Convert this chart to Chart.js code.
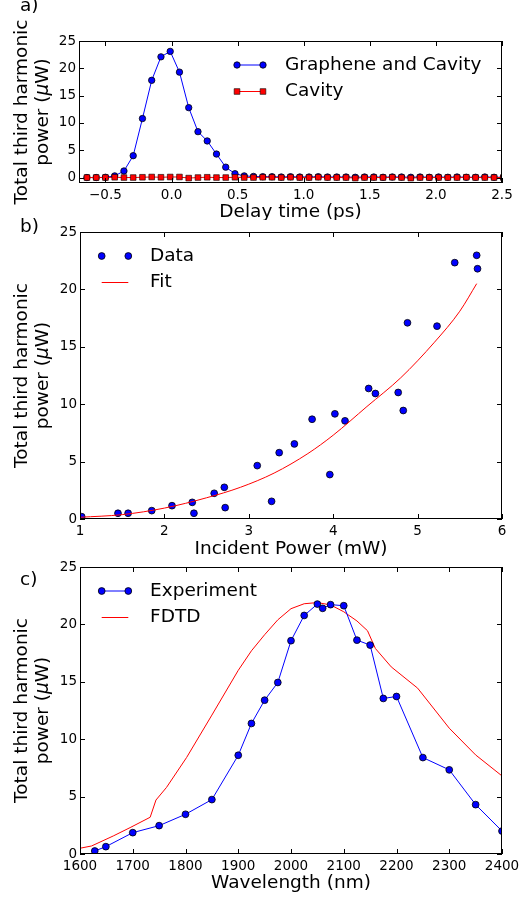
<!DOCTYPE html>
<html>
<head>
<meta charset="utf-8">
<script src="https://cdn.jsdelivr.net/npm/chart.js@4/dist/chart.umd.min.js"></script>
<style>
    body { margin: 0; background: #ffffff; width: 520px; height: 900px; position: relative; overflow: hidden; font-family: 'DejaVu Sans', sans-serif; }
    canvas { position: absolute; left: 0; }
    .panel-label { position: absolute; left: 20px; font-size: 18.5px; line-height: 1; color: #000; }
</style>
</head>
<body>
<canvas id="delayChart" width="520" height="220" style="top:0px"></canvas>
<canvas id="powerChart" width="520" height="340" style="top:220px"></canvas>
<canvas id="wavelengthChart" width="520" height="340" style="top:560px"></canvas>
<div class="panel-label" style="top:-4px">a)</div>
<div class="panel-label" style="top:217px">b)</div>
<div class="panel-label" style="top:570px">c)</div>
<script>
// Panel a) - delay scan
const delayTimes = [-0.64, -0.57, -0.50, -0.43, -0.36, -0.29, -0.22, -0.15, -0.08, -0.01,
    0.06, 0.13, 0.20, 0.27, 0.34, 0.41, 0.48, 0.55, 0.62, 0.69,
    0.76, 0.83, 0.90, 0.97, 1.04, 1.11, 1.18, 1.25, 1.32, 1.39,
    1.46, 1.53, 1.60, 1.67, 1.74, 1.81, 1.88, 1.95, 2.02, 2.09,
    2.16, 2.23, 2.30, 2.37, 2.44, 2.51];
const grapheneCavity = [0.0, 0.0, 0.05, 0.3, 1.2, 4.0, 10.8, 17.8, 22.1, 23.1,
    19.3, 12.8, 8.4, 6.7, 4.3, 1.9, 0.7, 0.3, 0.2, 0.15,
    0.15, 0.1, 0.15, 0.1, 0.1, 0.15, 0.1, 0.1, 0.1, 0.05,
    0.1, 0.1, 0.05, 0.1, 0.1, 0.05, 0.1, 0.05, 0.1, 0.05,
    0.1, 0.05, 0.05, 0.1, 0.05, 0.05];
const cavityOnly = [0.0, 0.0, 0.0, 0.05, 0.0, 0.0, 0.05, 0.1, 0.05, 0.1,
    0.1, -0.1, 0.0, 0.05, 0.0, 0.0, 0.05, 0.0, 0.0, 0.05,
    0.05, 0.0, 0.05, 0.0, 0.0, 0.05, 0.0, 0.0, 0.0, -0.1,
    0.0, 0.0, 0.0, 0.05, 0.0, -0.1, 0.0, 0.0, 0.0, 0.0,
    0.0, 0.05, 0.0, 0.0, 0.0, 0.0];
const delayTicks = [-0.5, 0.0, 0.5, 1.0, 1.5, 2.0, 2.5];
const delayTickLabels = ['\u22120.5', '0.0', '0.5', '1.0', '1.5', '2.0', '2.5'];

// Panel b) - power dependence
const incidentPower = [1.02, 1.45, 1.57, 1.85, 2.09, 2.33, 2.35, 2.59, 2.71, 2.72,
    3.10, 3.27, 3.36, 3.54, 3.75, 3.96, 4.02, 4.14, 4.42, 4.50,
    4.77, 4.83, 4.88, 5.23, 5.44, 5.70, 5.71];
const powerData = [0.2, 0.5, 0.5, 0.73, 1.16, 1.45, 0.5, 2.24, 2.76, 0.99,
    4.65, 1.54, 5.78, 6.54, 8.69, 3.87, 9.16, 8.55, 11.37, 10.93,
    11.02, 9.45, 17.09, 16.8, 22.33, 22.97, 21.8];
const fitPower = [1.0, 1.5, 2.0, 2.5, 2.9, 3.3, 3.7, 4.0, 4.4, 4.8, 5.2, 5.5, 5.7];
const fitValues = [0.15, 0.38, 0.95, 1.85, 2.76, 4.0, 5.7, 7.3, 9.8, 12.3, 15.4, 18.1, 20.5];
const powerTicks = [1, 2, 3, 4, 5, 6];

// Panel c) - wavelength dependence
const expWavelength = [1628, 1649, 1700, 1750, 1800, 1850, 1900, 1925, 1950, 1975,
    2000, 2025, 2050, 2060, 2075, 2100, 2125, 2150, 2175, 2200,
    2250, 2300, 2350, 2400];
const expValues = [0.26, 0.64, 1.86, 2.47, 3.46, 4.74, 8.6, 11.37, 13.4, 14.94,
    18.58, 20.78, 21.77, 21.4, 21.72, 21.63, 18.63, 18.2, 13.55, 13.72,
    8.4, 7.33, 4.3, 2.0];
const fdtdWavelength = [1600, 1622, 1663, 1695, 1733, 1744, 1764, 1802, 1850, 1900,
    1925, 1950, 1975, 2000, 2025, 2050, 2075, 2100, 2125, 2145,
    2160, 2190, 2240, 2300, 2350, 2400];
const fdtdValues = [0.5, 0.7, 1.57, 2.3, 3.2, 4.7, 5.8, 8.4, 12.1, 16.0,
    17.7, 19.1, 20.4, 21.37, 21.8, 21.9, 21.7, 21.1, 20.3, 19.45,
    17.9, 16.3, 14.45, 10.96, 8.63, 6.8];
const wavelengthTicks = [1600, 1700, 1800, 1900, 2000, 2100, 2200, 2300, 2400];

const powerAxisTicks = [0, 5, 10, 15, 20, 25];

Chart.defaults.font.family = "'DejaVu Sans', sans-serif";
Chart.defaults.color = '#000000';

function toPoints(xs, ys) {
    return xs.map((x, i) => ({ x: x, y: ys[i] }));
}

// Box frame with inward tick marks (matplotlib look)
const mplFrame = {
    id: 'mplFrame',
    afterDatasetsDraw(chart) {
        const { ctx, chartArea: a, scales } = chart;
        const len = 5;
        ctx.save();
        ctx.strokeStyle = '#000000';
        ctx.lineWidth = 1;
        ctx.beginPath();
        scales.x.ticks.forEach(t => {
            const px = Math.round(scales.x.getPixelForValue(t.value)) + 0.5;
            ctx.moveTo(px, a.bottom); ctx.lineTo(px, a.bottom - len);
            ctx.moveTo(px, a.top); ctx.lineTo(px, a.top + len);
        });
        scales.y.ticks.forEach(t => {
            const py = Math.round(scales.y.getPixelForValue(t.value)) + 0.5;
            ctx.moveTo(a.left, py); ctx.lineTo(a.left + len, py);
            ctx.moveTo(a.right, py); ctx.lineTo(a.right - len, py);
        });
        ctx.stroke();
        ctx.strokeRect(a.left + 0.5, a.top + 0.5, a.right - a.left - 1, a.bottom - a.top - 1);
        ctx.restore();
    }
};

// Two-line rotated y title, with an italic mu like mathtext
const mplYTitle = {
    id: 'mplYTitle',
    afterDraw(chart, args, opts) {
        const { ctx, chartArea: a } = chart;
        const cy = (a.top + a.bottom) / 2;
        const upright = "18.5px 'DejaVu Sans'";
        const italic = "italic 18.5px 'DejaVu Sans'";
        ctx.save();
        ctx.fillStyle = '#000000';
        ctx.textBaseline = 'middle';
        ctx.textAlign = 'left';

        // first line
        ctx.save();
        ctx.translate(opts.x1, cy);
        ctx.rotate(-Math.PI / 2);
        ctx.font = upright;
        const line1 = 'Total third harmonic';
        ctx.fillText(line1, -ctx.measureText(line1).width / 2, 0);
        ctx.restore();

        // second line in pieces
        const parts = [['power (', upright], ['\u03bc', italic], ['W)', upright]];
        let total = 0;
        parts.forEach(p => { ctx.font = p[1]; total += ctx.measureText(p[0]).width; });
        ctx.save();
        ctx.translate(opts.x2, cy);
        ctx.rotate(-Math.PI / 2);
        let pos = -total / 2;
        parts.forEach(p => {
            ctx.font = p[1];
            ctx.fillText(p[0], pos, 0);
            pos += ctx.measureText(p[0]).width;
        });
        ctx.restore();
        ctx.restore();
    }
};

// Legend with two markers joined by the line, like matplotlib
const mplLegend = {
    id: 'mplLegend',
    afterDraw(chart, args, opts) {
        if (!opts.rows) return;
        const ctx = chart.ctx;
        ctx.save();
        opts.rows.forEach(row => {
            const ds = chart.data.datasets[row.ds];
            if (ds.showLine !== false) {
                ctx.strokeStyle = ds.borderColor;
                ctx.lineWidth = ds.borderWidth;
                ctx.beginPath();
                ctx.moveTo(opts.x1, row.y);
                ctx.lineTo(opts.x2, row.y);
                ctx.stroke();
            }
            if (ds.pointRadius > 0) {
                ctx.fillStyle = ds.pointBackgroundColor;
                ctx.strokeStyle = ds.pointBorderColor;
                ctx.lineWidth = ds.pointBorderWidth;
                [opts.x1, opts.x2].forEach(x => {
                    Chart.helpers.drawPoint(ctx, {
                        pointStyle: ds.pointStyle,
                        radius: ds.pointRadius,
                        borderWidth: ds.pointBorderWidth,
                        rotation: 0
                    }, x, row.y);
                });
            }
            ctx.fillStyle = '#000000';
            ctx.font = "18.5px 'DejaVu Sans'";
            ctx.textBaseline = 'middle';
            ctx.textAlign = 'left';
            ctx.fillText(ds.label, opts.textX, row.y);
        });
        ctx.restore();
    }
};

function buildScales(cfg) {
    return {
        x: {
            type: 'linear',
            min: cfg.xMin,
            max: cfg.xMax,
            grid: { display: false, drawTicks: false },
            border: { display: false },
            afterBuildTicks: s => { s.ticks = cfg.xTicks.map(v => ({ value: v })); },
            afterFit: s => { s.height = cfg.xHeight; s.paddingLeft = 0; s.paddingRight = 0; },
            ticks: {
                autoSkip: false,
                maxRotation: 0,
                padding: 4,
                font: { size: 13.5 },
                callback: (value, index) => cfg.xLabels ? cfg.xLabels[index] : String(value)
            },
            title: {
                display: true,
                text: cfg.xTitle,
                font: { size: 18.5, lineHeight: 1.1 },
                padding: { top: 0, bottom: cfg.xTitlePad }
            }
        },
        y: {
            type: 'linear',
            min: cfg.yMin,
            max: 25,
            grid: { display: false, drawTicks: false },
            border: { display: false },
            afterBuildTicks: s => { s.ticks = powerAxisTicks.map(v => ({ value: v })); },
            afterFit: s => { s.width = cfg.yWidth; s.paddingTop = 0; s.paddingBottom = 0; },
            ticks: {
                padding: 3,
                font: { size: 13.5 },
                callback: value => String(value)
            }
        }
    };
}

function initializeDelayChart() {
    const ctx = document.getElementById('delayChart');
    new Chart(ctx, {
        type: 'line',
        data: {
            datasets: [{
                label: 'Graphene and Cavity',
                data: toPoints(delayTimes, grapheneCavity),
                borderColor: '#0000ff',
                borderWidth: 1,
                pointStyle: 'circle',
                pointRadius: 3.2,
                pointBackgroundColor: '#0000ff',
                pointBorderColor: '#000000',
                pointBorderWidth: 0.8,
                order: 1
            }, {
                label: 'Cavity',
                data: toPoints(delayTimes, cavityOnly),
                borderColor: '#ff0000',
                borderWidth: 1,
                pointStyle: 'rect',
                pointRadius: 4,
                pointBackgroundColor: '#ff0000',
                pointBorderColor: '#000000',
                pointBorderWidth: 0.6,
                order: 0
            }]
        },
        options: {
            responsive: false,
            animation: false,
            devicePixelRatio: 1,
            layout: { padding: { top: 41, right: 18, bottom: 0, left: 0 } },
            plugins: {
                legend: { display: false },
                tooltip: { enabled: false },
                mplYTitle: { x1: 22, x2: 43 },
                mplLegend: { x1: 237, x2: 263, textX: 285, rows: [{ ds: 0, y: 65 }, { ds: 1, y: 91.5 }] }
            },
            scales: buildScales({
                xMin: -0.7, xMax: 2.5, xTicks: delayTicks, xLabels: delayTickLabels,
                xTitle: 'Delay time (ps)', xHeight: 37, xTitlePad: -2, yMin: -1, yWidth: 79
            })
        },
        plugins: [mplFrame, mplYTitle, mplLegend]
    });
}

function initializePowerChart() {
    const ctx = document.getElementById('powerChart');
    new Chart(ctx, {
        type: 'line',
        data: {
            datasets: [{
                label: 'Data',
                data: toPoints(incidentPower, powerData),
                showLine: false,
                borderColor: '#0000ff',
                borderWidth: 1,
                pointStyle: 'circle',
                pointRadius: 3.4,
                pointBackgroundColor: '#0000ff',
                pointBorderColor: '#000000',
                pointBorderWidth: 0.8,
                order: 1
            }, {
                label: 'Fit',
                data: toPoints(fitPower, fitValues),
                borderColor: '#ff0000',
                borderWidth: 1,
                pointRadius: 0,
                cubicInterpolationMode: 'monotone',
                order: 0
            }]
        },
        options: {
            responsive: false,
            animation: false,
            devicePixelRatio: 1,
            layout: { padding: { top: 12, right: 18, bottom: 0, left: 0 } },
            plugins: {
                legend: { display: false },
                tooltip: { enabled: false },
                mplYTitle: { x1: 22, x2: 43 },
                mplLegend: { x1: 101.7, x2: 128.3, textX: 150, rows: [{ ds: 0, y: 36 }, { ds: 1, y: 62.5 }] }
            },
            scales: buildScales({
                xMin: 1, xMax: 6, xTicks: powerTicks, xLabels: null,
                xTitle: 'Incident Power (mW)', xHeight: 41, xTitlePad: 1, yMin: 0, yWidth: 80
            })
        },
        plugins: [mplFrame, mplYTitle, mplLegend]
    });
}

function initializeWavelengthChart() {
    const ctx = document.getElementById('wavelengthChart');
    new Chart(ctx, {
        type: 'line',
        data: {
            datasets: [{
                label: 'Experiment',
                data: toPoints(expWavelength, expValues),
                borderColor: '#0000ff',
                borderWidth: 1,
                pointStyle: 'circle',
                pointRadius: 3.4,
                pointBackgroundColor: '#0000ff',
                pointBorderColor: '#000000',
                pointBorderWidth: 0.8,
                order: 0
            }, {
                label: 'FDTD',
                data: toPoints(fdtdWavelength, fdtdValues),
                borderColor: '#ff0000',
                borderWidth: 1,
                pointRadius: 0,
                order: 1
            }]
        },
        options: {
            responsive: false,
            animation: false,
            devicePixelRatio: 1,
            layout: { padding: { top: 7, right: 18, bottom: 0, left: 0 } },
            plugins: {
                legend: { display: false },
                tooltip: { enabled: false },
                mplYTitle: { x1: 22, x2: 43 },
                mplLegend: { x1: 101.7, x2: 128.3, textX: 150, rows: [{ ds: 0, y: 31 }, { ds: 1, y: 57.5 }] }
            },
            scales: buildScales({
                xMin: 1600, xMax: 2400, xTicks: wavelengthTicks, xLabels: null,
                xTitle: 'Wavelength (nm)', xHeight: 46, xTitlePad: 7, yMin: 0, yWidth: 80
            })
        },
        plugins: [mplFrame, mplYTitle, mplLegend]
    });
}

initializeDelayChart();
initializePowerChart();
initializeWavelengthChart();
</script>
</body>
</html>
